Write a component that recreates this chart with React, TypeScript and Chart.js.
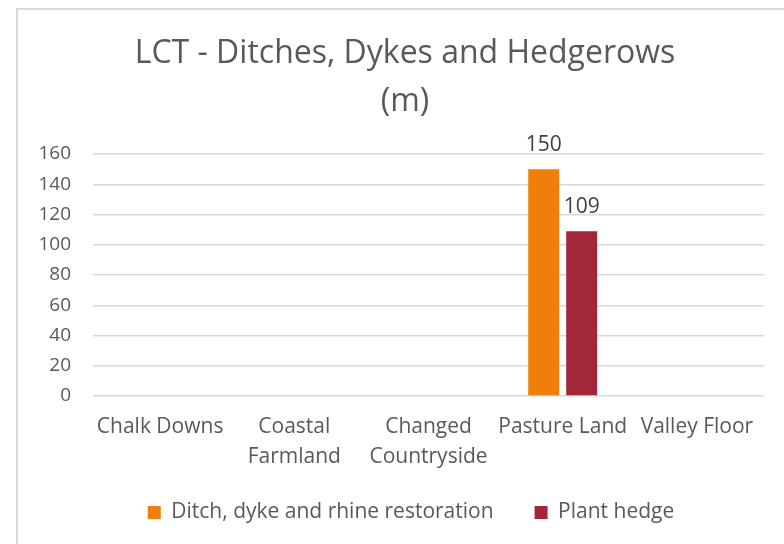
import React, { useEffect, useRef } from "react";
import { Chart, registerables } from "chart.js";

Chart.register(...registerables);

const categories: string[][] = [
  ["Chalk Downs"],
  ["Coastal", "Farmland"],
  ["Changed", "Countryside"],
  ["Pasture Land"],
  ["Valley Floor"],
];
const ditchValues: (number | null)[] = [null, null, null, 150, null];
const hedgeValues: (number | null)[] = [null, null, null, 109, null];
const yTicks: number[] = [0, 20, 40, 60, 80, 100, 120, 140, 160];
const titleLines: string[] = ["LCT - Ditches, Dykes and Hedgerows", "(m)"];
const seriesNames: string[] = ["Ditch, dyke and rhine restoration", "Plant hedge"];

const FONT = "'Open Sans', sans-serif";
const TEXT = "#595959";

const dataLabelPlugin = {
  id: "dataLabels",
  afterDatasetsDraw(chart: any) {
    const ctx = chart.ctx;
    ctx.save();
    ctx.font = `21px ${FONT}`;
    ctx.fillStyle = "#404040";
    ctx.textAlign = "center";
    ctx.textBaseline = "alphabetic";
    chart.data.datasets.forEach((ds: any, i: number) => {
      const meta = chart.getDatasetMeta(i);
      meta.data.forEach((bar: any, j: number) => {
        const v = ds.data[j];
        if (v === null || v === undefined) return;
        ctx.fillText(String(v), bar.x, bar.y - 18);
      });
    });
    ctx.restore();
  },
};

// Shift title and legend blocks to match the reference placement
const nudgePlugin = {
  id: "nudge",
  afterLayout(chart: any) {
    const t = chart.titleBlock;
    if (t) {
      t.left += 14;
      t.right += 14;
    }
    const l = chart.legend;
    if (l) {
      l.left += 20;
      l.right += 20;
      l.top -= 11;
      l.bottom -= 11;
    }
  },
};

export default function App() {
  const ref = useRef<HTMLCanvasElement>(null);
  useEffect(() => {
    if (!ref.current) return;
    const chart = new Chart(ref.current, {
      type: "bar",
      data: {
        labels: categories,
        datasets: [
          {
            label: seriesNames[0],
            data: ditchValues,
            backgroundColor: "#EF7F0A",
            categoryPercentage: 0.566,
            barPercentage: 0.816,
          },
          {
            label: seriesNames[1],
            data: hedgeValues,
            backgroundColor: "#A22839",
            categoryPercentage: 0.566,
            barPercentage: 0.816,
          },
        ],
      },
      options: {
        responsive: false,
        animation: false,
        devicePixelRatio: 1,
        layout: { padding: { left: 0, right: 20, top: 0, bottom: 0 } },
        plugins: {
          title: {
            display: true,
            text: titleLines,
            color: TEXT,
            font: { family: FONT, size: 32, weight: "normal", lineHeight: 1.5 },
            padding: { top: 20, bottom: 28 },
          },
          legend: {
            display: true,
            position: "bottom",
            labels: {
              color: TEXT,
              font: { family: FONT, size: 21 },
              boxWidth: 13,
              boxHeight: 13,
              padding: 41,
            },
          },
          tooltip: { enabled: false },
        },
        scales: {
          x: {
            grid: { display: false, drawTicks: false },
            border: { display: false },
            afterFit: (scale: any) => {
              scale.height = 76;
            },
            ticks: {
              color: TEXT,
              font: { family: FONT, size: 21, lineHeight: 30 / 21 },
              padding: 16,
              maxRotation: 0,
              autoSkip: false,
            },
          },
          y: {
            min: 0,
            max: 160,
            afterFit: (scale: any) => {
              scale.width = 75;
            },
            afterBuildTicks: (scale: any) => {
              scale.ticks = yTicks.map((v) => ({ value: v }));
            },
            grid: { color: "#d9d9d9", lineWidth: 1.5, drawTicks: false },
            border: { display: false },
            ticks: {
              color: TEXT,
              font: { family: FONT, size: 19 },
              padding: 22,
            },
          },
        },
      },
      plugins: [dataLabelPlugin, nudgePlugin],
    });
    return () => chart.destroy();
  }, []);

  return (
    <div
      style={{
        position: "absolute",
        left: 16,
        top: 8,
        width: 768,
        height: 536,
        borderTop: "2px solid #d9d9d9",
        borderLeft: "2px solid #d9d9d9",
        boxSizing: "border-box",
        background: "#ffffff",
        overflow: "hidden",
      }}
    >
      <canvas ref={ref} width={766} height={534} style={{ display: "block" }} />
    </div>
  );
}
